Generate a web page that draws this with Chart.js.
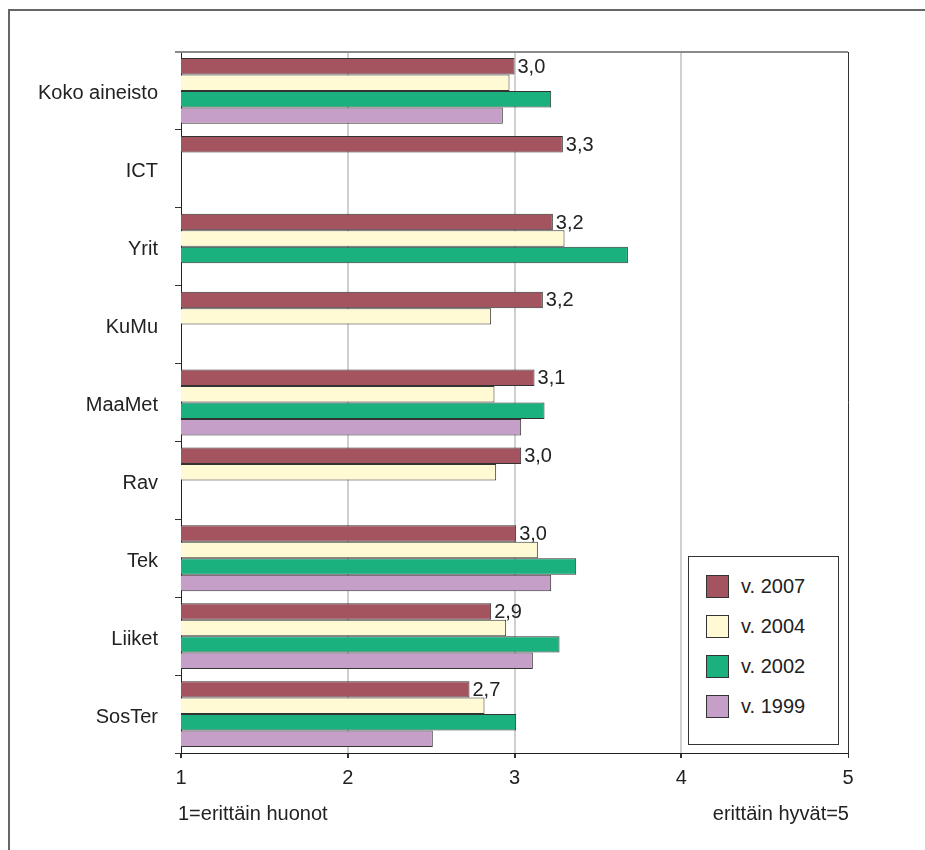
<!DOCTYPE html>
<html lang="fi">
<head>
  <meta charset="UTF-8">
  <title>Arviot 1999–2007</title>
  <script src="https://cdn.jsdelivr.net/npm/chart.js"></script>
  <style>
    body {
      margin: 0;
      background: #fff;
      font-family: "Liberation Sans", Arial, sans-serif;
      color: #222;
    }
    #wrap {
      position: relative;
      width: 925px;
      height: 850px;
      overflow: hidden;
    }
    #frame {
      position: absolute;
      left: 8px;
      top: 9px;
      width: 960px;
      height: 900px;
      border-left: 2px solid #666;
      border-top: 2px solid #666;
    }
    canvas { position: absolute; left: 0; top: 0; }
    #legend {
      position: absolute;
      left: 688px;
      top: 556px;
      width: 151px;
      height: 189px;
      border: 1px solid #333;
      box-sizing: border-box;
      padding-top: 9px;
      background: #fff;
    }
    .item {
      height: 40px;
      display: flex;
      align-items: center;
      font-size: 20px;
    }
    .sw {
      width: 23px;
      height: 23px;
      border: 1px solid #333;
      box-sizing: border-box;
      margin-left: 17px;
      margin-right: 12px;
    }
    .note {
      position: absolute;
      top: 801px;
      font-size: 20px;
      line-height: 24px;
    }
  </style>
</head>
<body>
  <div id="wrap">
    <div id="frame"></div>
    <canvas id="chart" width="925" height="850"></canvas>
    <div id="legend"></div>
    <div class="note" style="left:178px;">1=erittäin huonot</div>
    <div class="note" style="right:76px;">erittäin hyvät=5</div>
  </div>

  <script>
    const categories = ["Koko aineisto", "ICT", "Yrit", "KuMu", "MaaMet", "Rav", "Tek", "Liiket", "SosTer"];
    const v2007 = [3.00, 3.29, 3.23, 3.17, 3.12, 3.04, 3.01, 2.86, 2.73];
    const v2004 = [2.97, null, 3.30, 2.86, 2.88, 2.89, 3.14, 2.95, 2.82];
    const v2002 = [3.22, null, 3.68, null, 3.18, null, 3.37, 3.27, 3.01];
    const v1999 = [2.93, null, null, null, 3.04, null, 3.22, 3.11, 2.51];
    const xTicks = [1, 2, 3, 4, 5];

    const FONT = '"Liberation Sans", Arial, sans-serif';

    // arvo 2007-palkin perään, pilkulla
    const valueLabels = {
      id: "valueLabels",
      afterDatasetsDraw(chart) {
        const ctx = chart.ctx;
        const meta = chart.getDatasetMeta(0);
        ctx.save();
        ctx.font = "20px " + FONT;
        ctx.fillStyle = "#222";
        ctx.textBaseline = "middle";
        meta.data.forEach((bar, i) => {
          if (v2007[i] == null) return;
          ctx.fillText(v2007[i].toFixed(1).replace(".", ","), bar.x + 3, bar.y + 1);
        });
        ctx.restore();
      }
    };

    // harmaa yläreuna kuvaalueelle
    const topEdge = {
      id: "topEdge",
      afterDraw(chart) {
        const a = chart.chartArea;
        const ctx = chart.ctx;
        ctx.save();
        ctx.strokeStyle = "#8a8a8a";
        ctx.lineWidth = 2;
        ctx.beginPath();
        ctx.moveTo(a.left - 6, a.top);
        ctx.lineTo(a.right, a.top);
        ctx.stroke();
        ctx.restore();
      }
    };

    const chart = new Chart(document.getElementById("chart"), {
      type: "bar",
      data: {
        labels: categories,
        datasets: [
          { label: "v. 2007", data: v2007, backgroundColor: "#a4545e" },
          { label: "v. 2004", data: v2004, backgroundColor: "#fff9d4" },
          { label: "v. 2002", data: v2002, backgroundColor: "#1ab17f" },
          { label: "v. 1999", data: v1999, backgroundColor: "#c69fc9" }
        ]
      },
      options: {
        indexAxis: "y",
        responsive: false,
        animation: false,
        layout: { padding: { left: 0, top: 52, right: 77, bottom: 0 } },
        datasets: {
          bar: {
            borderColor: "#333",
            borderWidth: 1,
            categoryPercentage: 0.845,
            barPercentage: 1.0
          }
        },
        plugins: {
          legend: { display: false },
          tooltip: { enabled: false }
        },
        scales: {
          x: {
            type: "linear",
            min: 1,
            max: 5,
            afterBuildTicks: (scale) => { scale.ticks = xTicks.map(v => ({ value: v })); },
            afterFit: (scale) => { scale.height = 97; },
            ticks: {
              font: { size: 20, family: FONT },
              color: "#222",
              padding: 8
            },
            grid: {
              color: (c) => c.tick.value === 5 ? "#333" : (c.tick.value === 1 ? "rgba(0,0,0,0)" : "#d0d0d0"),
              lineWidth: (c) => c.tick.value === 5 ? 1 : 2,
              tickColor: "#333",
              tickLength: 5
            },
            border: { color: "#222", width: 1 }
          },
          y: {
            afterFit: (scale) => { scale.width = 181; },
            ticks: {
              font: { size: 20, family: FONT },
              color: "#222",
              padding: 17,
              labelOffset: 3
            },
            grid: {
              drawOnChartArea: false,
              tickColor: "#333",
              tickLength: 6
            },
            border: { color: "#222", width: 1 }
          }
        }
      },
      plugins: [valueLabels, topEdge]
    });

    // selite laatikkoon kuvaalueen sisälle
    const legend = document.getElementById("legend");
    chart.data.datasets.forEach(ds => {
      const row = document.createElement("div");
      row.className = "item";
      const sw = document.createElement("span");
      sw.className = "sw";
      sw.style.background = ds.backgroundColor;
      const txt = document.createElement("span");
      txt.textContent = ds.label;
      row.appendChild(sw);
      row.appendChild(txt);
      legend.appendChild(row);
    });
  </script>
</body>
</html>
